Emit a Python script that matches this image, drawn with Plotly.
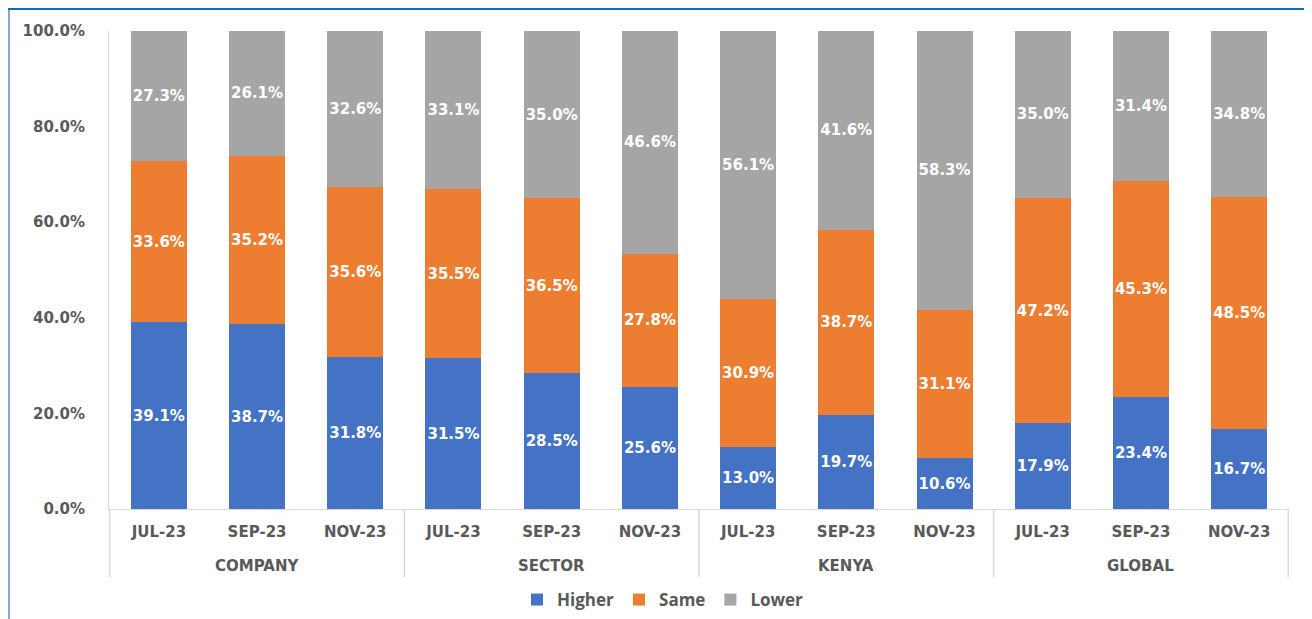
import plotly.graph_objects as go

groups = ["COMPANY", "SECTOR", "KENYA", "GLOBAL"]
periods = ["JUL-23", "SEP-23", "NOV-23"]
higher = [39.1, 38.7, 31.8, 31.5, 28.5, 25.6, 13.0, 19.7, 10.6, 17.9, 23.4, 16.7]
same = [33.6, 35.2, 35.6, 35.5, 36.5, 27.8, 30.9, 38.7, 31.1, 47.2, 45.3, 48.5]
lower = [27.3, 26.1, 32.6, 33.1, 35.0, 46.6, 56.1, 41.6, 58.3, 35.0, 31.4, 34.8]

series = [("Higher", higher, "#4472C4"), ("Same", same, "#ED7D31"), ("Lower", lower, "#A5A5A5")]

keys = [f"{g}|{p}" for g in groups for p in periods]
tick_text = [p for g in groups for p in periods]

# page is shown with an 8px body margin; figure sized to fit
OFF = 8
W, H = 1312 - OFF, 619 - OFF
L, T = 109 - OFF, 31 - OFF
R = W - (1289 - OFF)
B = H - (509 - OFF)
pw, ph = W - L - R, H - T - B

def px2x(px):
    return (px - OFF - L) / pw

def py2y(py):
    return (H - B - (py - OFF)) / ph

fig = go.Figure()
for name, vals, color in series:
    fig.add_trace(go.Bar(
        name=name,
        x=keys,
        y=[v / 100 for v in vals],
        text=[f"{v:.1f}%" for v in vals],
        textposition="inside",
        insidetextanchor="middle",
        textangle=0,
        constraintext="none",
        textfont=dict(family="DejaVu Sans", size=15, color="white", weight="bold"),
        marker=dict(color=color, line=dict(width=0)),
        hoverinfo="skip",
    ))

annotations = []
shapes = []
n = len(periods)
for gi, g in enumerate(groups):
    annotations.append(dict(
        x=keys[gi * n + n // 2], xref="x", y=py2y(566), yref="paper",
        text=g, showarrow=False, xanchor="center", yanchor="middle",
        font=dict(family="DejaVu Sans", size=15, color="#595959", weight="bold"),
    ))
for k in range(len(groups) + 1):
    xb = k * n - 0.5
    shapes.append(dict(type="line", xref="x", yref="paper", x0=xb, x1=xb,
                       y0=0, y1=py2y(577), line=dict(color="#D9D9D9", width=1.5)))

shapes += [
    dict(type="rect", xref="paper", yref="paper", x0=px2x(0), x1=px2x(1312), y0=py2y(10), y1=py2y(OFF),
         fillcolor="#0070C0", line=dict(width=0), layer="above"),
    dict(type="line", xref="paper", yref="paper", x0=px2x(9), x1=px2x(9), y0=py2y(10), y1=py2y(619),
         line=dict(color="#8FA3D0", width=2)),
    dict(type="line", xref="paper", yref="paper", x0=px2x(1309), x1=px2x(1309), y0=py2y(10), y1=py2y(619),
         line=dict(color="#D9D9D9", width=1)),
]

fig.update_layout(
    barmode="stack",
    bargap=0.43,
    width=W, height=H,
    margin=dict(l=L, r=R, t=T, b=B, autoexpand=False),
    paper_bgcolor="white",
    plot_bgcolor="white",
    showlegend=True,
    legend=dict(
        orientation="h", x=px2x(663), xanchor="center", y=py2y(600), yanchor="middle",
        font=dict(family="Open Sans", size=17, color="#595959", weight="bold"),
        traceorder="normal",
    ),
    xaxis=dict(
        type="category",
        tickvals=keys, ticktext=tick_text,
        showline=True, linecolor="#D9D9D9", linewidth=1,
        tickfont=dict(family="DejaVu Sans", size=15, color="#595959", weight="bold"),
        showgrid=False, ticks="", ticklabelstandoff=9,
    ),
    yaxis=dict(
        range=[0, 1], tickformat=".1%", dtick=0.2, tick0=0,
        showgrid=False, zeroline=False,
        showline=True, linecolor="#D9D9D9", linewidth=1,
        tickfont=dict(family="DejaVu Sans", size=15, color="#595959", weight="bold"),
        ticks="", ticklabelstandoff=20,
    ),
    annotations=annotations,
    shapes=shapes,
)

fig.write_html("out.html")
